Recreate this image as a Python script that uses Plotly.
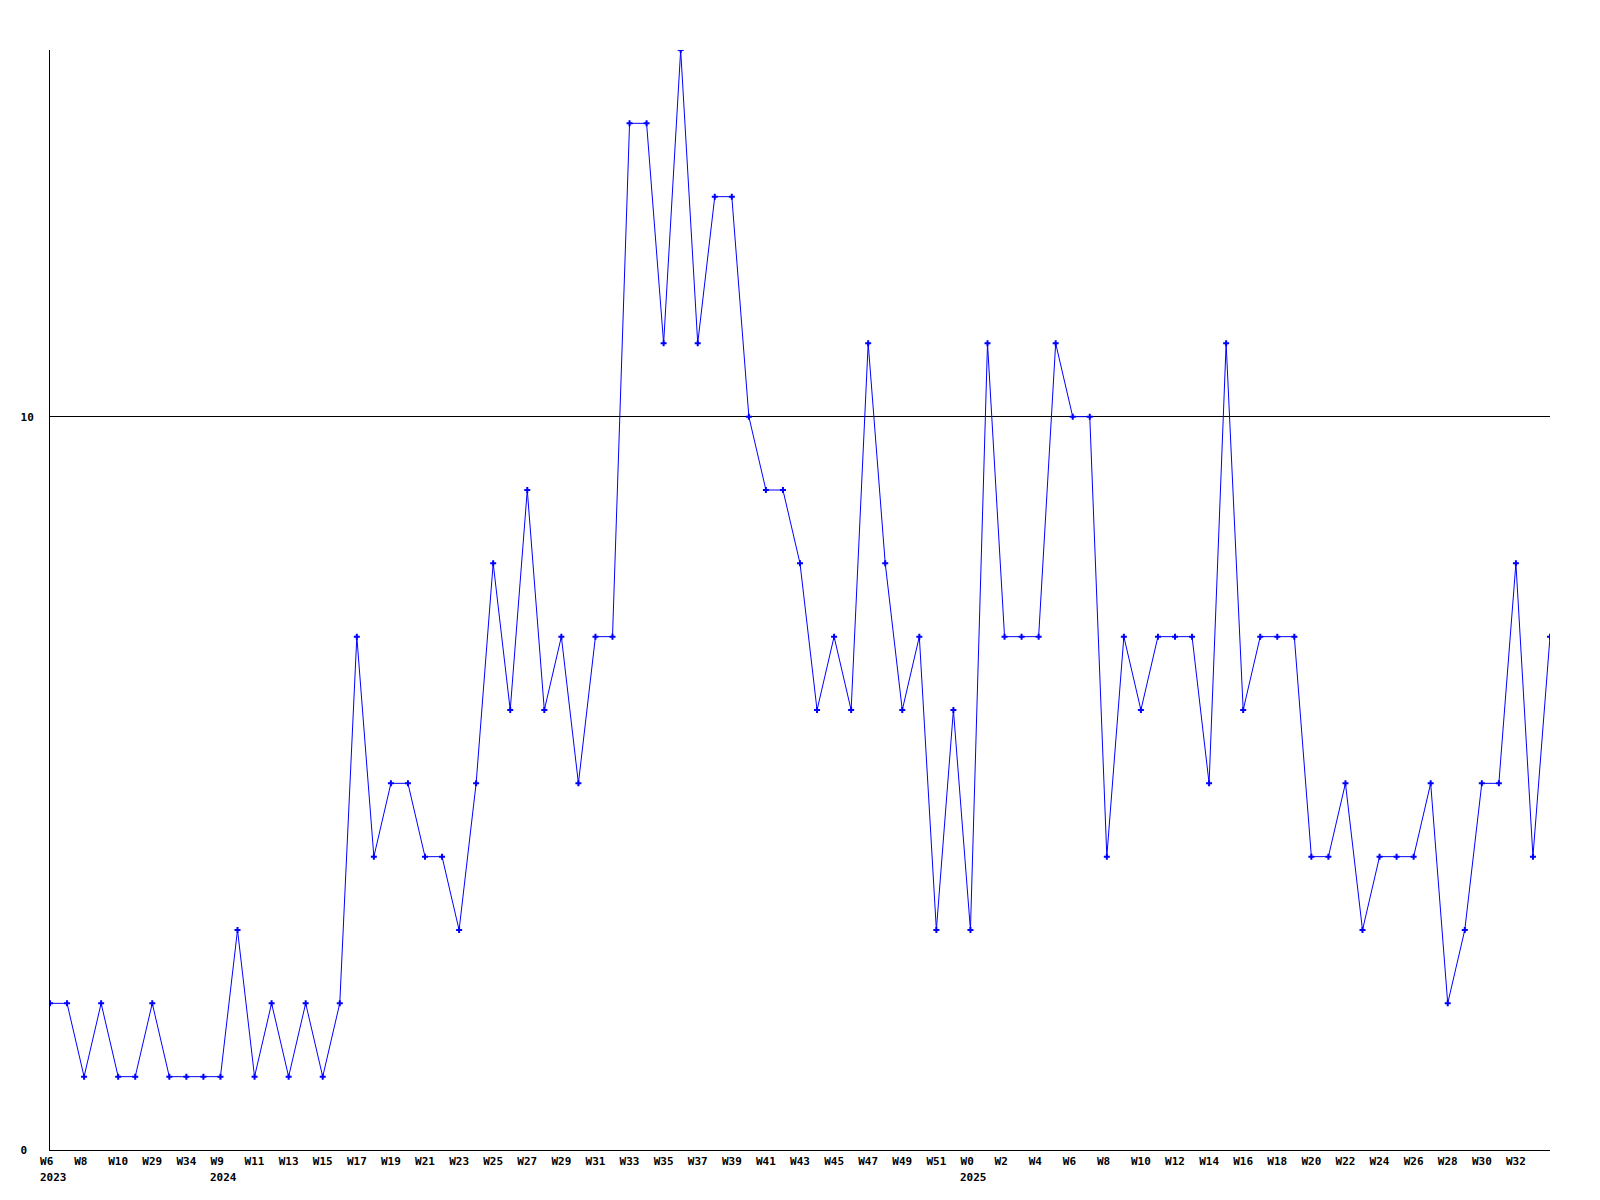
import plotly.graph_objects as go

# Values per week (index 0..88)
values = [2, 2, 1, 2, 1, 1, 2, 1, 1, 1,
          1, 3, 1, 2, 1, 2, 1, 2, 7, 4,
          5, 5, 4, 4, 3, 5, 8, 6, 9, 6,
          7, 5, 7, 7, 14, 14, 11, 15, 11, 13,
          13, 10, 9, 9, 8, 6, 7, 6, 11, 8,
          6, 7, 3, 6, 3, 11, 7, 7, 7, 11,
          10, 10, 4, 7, 6, 7, 7, 7, 5, 11,
          6, 7, 7, 7, 4, 4, 5, 3, 4, 4,
          4, 5, 2, 3, 5, 5, 8, 4, 7]

# Tick labels shown on every other point
tick_labels = ["W6", "W8", "W10", "W29", "W34", "W9", "W11", "W13", "W15", "W17",
               "W19", "W21", "W23", "W25", "W27", "W29", "W31", "W33", "W35", "W37",
               "W39", "W41", "W43", "W45", "W47", "W49", "W51", "W0", "W2", "W4",
               "W6", "W8", "W10", "W12", "W14", "W16", "W18", "W20", "W22", "W24",
               "W26", "W28", "W30", "W32"]

# Year labels: (tick label index, year)
year_labels = [(0, "2023"), (5, "2024"), (27, "2025")]

x_idx = list(range(len(values)))
tick_vals = [2 * i for i in range(len(tick_labels))]
tick_text = [t.ljust(3, "\u00a0") for t in tick_labels]

FONT = "DejaVu Sans Mono"

fig = go.Figure()
fig.add_trace(go.Scatter(
    x=x_idx, y=values, mode="lines+markers",
    line=dict(color="#0000ff", width=1),
    marker=dict(symbol="cross", size=5, color="#0000ff", line=dict(width=0)),
    hoverinfo="x+y", showlegend=False,
))

for ti, yr in year_labels:
    fig.add_annotation(
        x=tick_vals[ti], y=0, xref="x", yref="paper",
        text=yr, showarrow=False, xanchor="left", yanchor="top",
        xshift=-12, yshift=-19,
        font=dict(family=FONT, size=11, color="black", weight="bold"),
    )

fig.update_layout(
    width=1600, height=1200,
    margin=dict(l=42, r=58, t=42, b=58),
    plot_bgcolor="white", paper_bgcolor="white",
    font=dict(family=FONT, size=11, color="black"),
)
fig.update_xaxes(
    range=[0, len(values) - 1], tickmode="array", tickvals=tick_vals, ticktext=tick_text,
    showgrid=False, zeroline=False, showline=True, linecolor="black", linewidth=1,
    ticks="", tickangle=0, ticklabelstandoff=1,
    tickfont=dict(family=FONT, size=11, color="black", weight="bold"),
)
fig.update_yaxes(
    range=[0, 15], tickmode="array", tickvals=[0, 10], ticktext=["0\u00a0", "10"],
    showgrid=True, gridcolor="black", gridwidth=1, zeroline=False,
    showline=True, linecolor="black", linewidth=1, ticks="",
    ticklabelstandoff=13,
    tickfont=dict(family=FONT, size=11, color="black", weight="bold"),
)

fig.write_html("out.html")
